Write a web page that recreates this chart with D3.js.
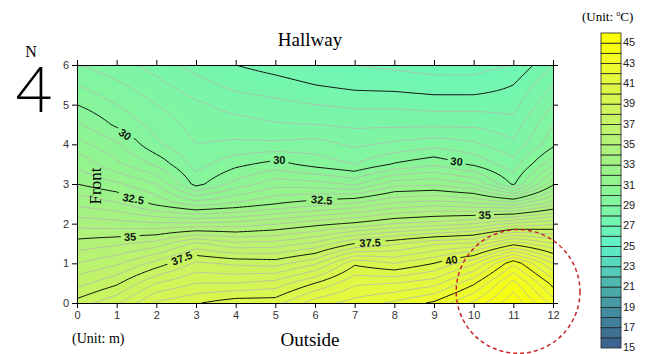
<!DOCTYPE html>
<html>
<head>
<meta charset="utf-8">
<script src="https://cdn.jsdelivr.net/npm/d3@7"></script>
<style>
  body { margin: 0; background: #fff; }
  svg text { font-family: "Liberation Sans", Arial, sans-serif; }
  .serif { font-family: "Liberation Serif", "Times New Roman", serif !important; }
</style>
</head>
<body>
<div id="chart"></div>
<script>
// measurement grid (m)
const xStations = [0, 1, 2, 3, 4, 5, 6, 7, 8, 9, 10, 11, 12];
const yLevels = [6, 5.5, 5, 4.5, 4, 3.5, 3, 2.5, 2, 1.5, 1, 0.5, 0];

// temperature (°C) per x station, listed from y = 6 down to y = 0
const t_x0  = [29.0, 29.5, 30.0, 30.6, 31.2, 31.9, 32.5, 33.4, 34.3, 35.2, 36.0, 36.8, 37.7];
const t_x1  = [28.7, 29.1, 29.5, 29.9, 30.6, 31.1, 32.1, 33.1, 34.2, 35.4, 36.4, 37.4, 38.4];
const t_x2  = [28.3, 28.65, 29.0, 29.3, 29.6, 30.4, 31.5, 32.4, 34.1, 35.7, 37.2, 38.5, 39.6];
const t_x3  = [27.8, 28.2, 28.6, 28.8, 29.0, 29.3, 29.8, 31.8, 34.1, 36.6, 38.1, 39.0, 39.95];
const t_x4  = [27.5, 27.85, 28.3, 28.7, 29.1, 29.85, 30.7, 32.1, 34.2, 36.1, 37.9, 39.0, 40.3];
const t_x5  = [27.3, 27.7, 28.15, 28.55, 29.1, 30.2, 31.3, 32.5, 34.45, 36.2, 37.8, 39.2, 40.3];
const t_x6  = [27.1, 27.5, 28.0, 28.5, 29.2, 29.8, 31.2, 32.8, 34.8, 36.6, 38.4, 40.0, 41.3];
const t_x7  = [27.0, 27.35, 27.9, 28.4, 28.9, 29.5, 30.9, 33.1, 35.1, 37.5, 39.9, 40.9, 41.7];
const t_x8  = [26.9, 27.3, 27.9, 28.4, 29.1, 30.05, 31.8, 33.6, 35.5, 37.9, 39.5, 41.0, 42.1];
const t_x9  = [26.8, 27.2, 27.8, 28.4, 29.3, 30.4, 31.9, 33.8, 35.7, 38.4, 40.0, 41.3, 42.6];
const t_x10 = [26.8, 27.2, 27.8, 28.4, 29.1, 29.9, 31.5, 33.6, 36.0, 38.6, 40.9, 42.4, 43.6];
const t_x11 = [27.0, 27.5, 27.8, 28.2, 28.6, 29.2, 29.9, 33.3, 36.6, 39.8, 42.9, 44.2, 44.9];
const t_x12 = [28.0, 28.5, 29.0, 29.5, 29.85, 30.9, 32.4, 34.3, 36.9, 39.0, 41.0, 42.3, 43.3];
const tempByX = [t_x0, t_x1, t_x2, t_x3, t_x4, t_x5, t_x6, t_x7, t_x8, t_x9, t_x10, t_x11, t_x12];

// contour levels
const majorLevels = [27.5, 30, 32.5, 35, 37.5, 40, 42.5];
const minorStep = 0.5;

// contour labels
const labelVals = [30, 30, 30, 32.5, 32.5, 35, 35, 37.5, 37.5, 40];
const labelX = [1.21, 5.1, 9.57, 1.42, 6.17, 1.34, 10.28, 2.64, 7.39, 9.44];
const labelY = [4.25, 3.6, 3.57, 2.63, 2.6, 1.67, 2.22, 1.13, 1.52, 1.08];
const labelAngle = [36, 0, 6, 10, 4, -3, -2, -22, -2, -12];

// colour bar
const barMin = 15, barMax = 46;
const barTicks = d3.range(15, 46, 2);
const colorStops = [15, 17, 19, 21, 23, 25, 27, 29, 31, 33, 35, 37, 39, 41, 43, 45, 46];
const colorHex = ["#3b5e8e", "#3f7896", "#4493a2", "#4cb1ad", "#56d2bb", "#5eefc6", "#6ff6b4", "#80f5a2",
                  "#8ff492", "#9ef386", "#b0f27a", "#c2f368", "#d2f556", "#e2f842", "#effb28", "#fbff08", "#ffff00"];

// highlighted region (circle)
const circleCenter = [11.12, 0.29];
const circleRadius = 1.56;

const width = 658, height = 354;
const svg = d3.select("#chart").append("svg")
  .attr("width", width).attr("height", height);

const xScale = d3.scaleLinear().domain([0, 12]).range([77, 553]);
const yScale = d3.scaleLinear().domain([0, 6]).range([303, 65]);
const color = d3.scaleLinear().domain(colorStops).range(colorHex).clamp(true);

// bilinear lookup in the measured grid
function sample(x, y) {
  const i = Math.min(Math.floor(x), 11);
  const fx = x - i;
  const k = Math.min(Math.floor((6 - y) / 0.5), 11);
  const fy = ((6 - y) - k * 0.5) / 0.5;
  const a = tempByX[i][k], b = tempByX[i + 1][k];
  const c = tempByX[i][k + 1], d = tempByX[i + 1][k + 1];
  return (a * (1 - fx) + b * fx) * (1 - fy) + (c * (1 - fx) + d * fx) * fy;
}

const nx = 121, ny = 121;
const values = new Float64Array(nx * ny);
for (let j = 0; j < ny; j++) {
  const y = j / (ny - 1) * 6;
  for (let i = 0; i < nx; i++) {
    values[j * nx + i] = sample(i / (nx - 1) * 12, y);
  }
}

const proj = d3.geoTransform({
  point: function(px, py) {
    this.stream.point(xScale((px - 0.5) / (nx - 1) * 12), yScale((py - 0.5) / (ny - 1) * 6));
  }
});
const path = d3.geoPath(proj);
const contours = d3.contours().size([nx, ny]);

const defs = svg.append("defs");
defs.append("clipPath").attr("id", "plotclip").append("rect")
  .attr("x", xScale(0)).attr("y", yScale(6))
  .attr("width", xScale(12) - xScale(0)).attr("height", yScale(0) - yScale(6));

const plot = svg.append("g").attr("clip-path", "url(#plotclip)");

// filled surface
const fillLevels = d3.range(26, 46, 0.1);
plot.append("rect")
  .attr("x", xScale(0)).attr("y", yScale(6))
  .attr("width", xScale(12) - xScale(0)).attr("height", yScale(0) - yScale(6))
  .attr("fill", color(26));
plot.append("g").selectAll("path")
  .data(contours.thresholds(fillLevels)(values))
  .join("path")
  .attr("d", path)
  .attr("fill", d => color(d.value + 0.05));

// minor contour lines
const minorLevels = d3.range(26.5, 45.01, minorStep).filter(v => Math.abs(v / 2.5 - Math.round(v / 2.5)) > 1e-6);
plot.append("g").selectAll("path")
  .data(contours.thresholds(minorLevels)(values))
  .join("path")
  .attr("d", path)
  .attr("fill", "none")
  .attr("stroke", "#b4bbae")
  .attr("stroke-width", 0.8);

// label gaps in major lines
const mask = defs.append("mask").attr("id", "lblmask").attr("maskUnits", "userSpaceOnUse")
  .attr("x", 0).attr("y", 0).attr("width", width).attr("height", height);
mask.append("rect").attr("width", width).attr("height", height).attr("fill", "#fff");
labelVals.forEach((v, i) => {
  const w = String(v).length * 6.2 + 6;
  mask.append("rect")
    .attr("x", -w / 2).attr("y", -6).attr("width", w).attr("height", 12)
    .attr("fill", "#000")
    .attr("transform", `translate(${xScale(labelX[i])},${yScale(labelY[i])}) rotate(${labelAngle[i]})`);
});

plot.append("g").attr("mask", "url(#lblmask)").selectAll("path")
  .data(contours.thresholds(majorLevels)(values))
  .join("path")
  .attr("d", path)
  .attr("fill", "none")
  .attr("stroke", "#111")
  .attr("stroke-width", 1);

labelVals.forEach((v, i) => {
  svg.append("text")
    .attr("transform", `translate(${xScale(labelX[i])},${yScale(labelY[i])}) rotate(${labelAngle[i]})`)
    .attr("text-anchor", "middle")
    .attr("dy", "0.36em")
    .attr("font-size", 11)
    .attr("font-weight", "bold")
    .attr("fill", "#111")
    .text(v);
});

// axes
const tickFont = g => g.selectAll("text").attr("font-size", 11).attr("fill", "#333");
svg.append("g").attr("transform", `translate(0,${yScale(0)})`)
  .call(d3.axisBottom(xScale).ticks(12).tickSize(5).tickPadding(3).tickSizeOuter(0))
  .call(tickFont);
svg.append("g").attr("transform", `translate(${xScale(0)},0)`)
  .call(d3.axisLeft(yScale).ticks(6).tickSize(5).tickPadding(3).tickSizeOuter(0))
  .call(tickFont);
svg.append("g").attr("transform", `translate(0,${yScale(6)})`)
  .call(d3.axisTop(xScale).ticks(12).tickSize(5).tickFormat("").tickSizeOuter(0));
svg.append("g").attr("transform", `translate(${xScale(12)},0)`)
  .call(d3.axisRight(yScale).ticks(6).tickSize(5).tickFormat("").tickSizeOuter(0));

// highlighted circle
svg.append("circle")
  .attr("cx", xScale(circleCenter[0])).attr("cy", yScale(circleCenter[1]))
  .attr("r", xScale(circleRadius) - xScale(0))
  .attr("fill", "none")
  .attr("stroke", "#c8262b")
  .attr("stroke-width", 1.5)
  .attr("stroke-dasharray", "4,3");

// texts
svg.append("text").attr("class", "serif").attr("x", 310).attr("y", 46)
  .attr("text-anchor", "middle").attr("font-size", 19).text("Hallway");
svg.append("text").attr("class", "serif").attr("x", 310).attr("y", 346)
  .attr("text-anchor", "middle").attr("font-size", 19).text("Outside");
svg.append("text").attr("class", "serif").attr("x", 72).attr("y", 343)
  .attr("font-size", 14).text("(Unit: m)");
svg.append("text").attr("class", "serif")
  .attr("transform", "translate(101,186) rotate(-90)")
  .attr("text-anchor", "middle").attr("font-size", 17).text("Front");
svg.append("text").attr("class", "serif").attr("x", 31).attr("y", 57)
  .attr("text-anchor", "middle").attr("font-size", 16).text("N");
svg.append("text").attr("x", 34).attr("y", 112)
  .attr("text-anchor", "middle").attr("font-size", 64)
  .style("font-family", "Lato, 'Noto Sans', sans-serif").attr("font-weight", 300).text("4");

// colour bar
const barScale = d3.scaleLinear().domain([barMin, barMax]).range([348, 33]);
const bar = svg.append("g");
bar.selectAll("rect")
  .data(d3.range(barMin, barMax))
  .join("rect")
  .attr("x", 601).attr("width", 20)
  .attr("y", d => barScale(d + 1)).attr("height", d => barScale(d) - barScale(d + 1))
  .attr("fill", d => color(d + 0.5))
  .attr("stroke", "#222").attr("stroke-width", 0.8);
bar.selectAll("text")
  .data(barTicks)
  .join("text")
  .attr("x", 623).attr("y", d => barScale(d))
  .attr("dy", "0.3em").attr("font-size", 11).attr("fill", "#222")
  .text(d => d);
const unitC = svg.append("text").attr("class", "serif").attr("x", 582).attr("y", 21).attr("font-size", 13);
unitC.append("tspan").text("(Unit: ");
unitC.append("tspan").attr("font-size", 8).attr("dy", -5).text("o");
unitC.append("tspan").attr("dy", 5).text("C)");
</script>
</body>
</html>
